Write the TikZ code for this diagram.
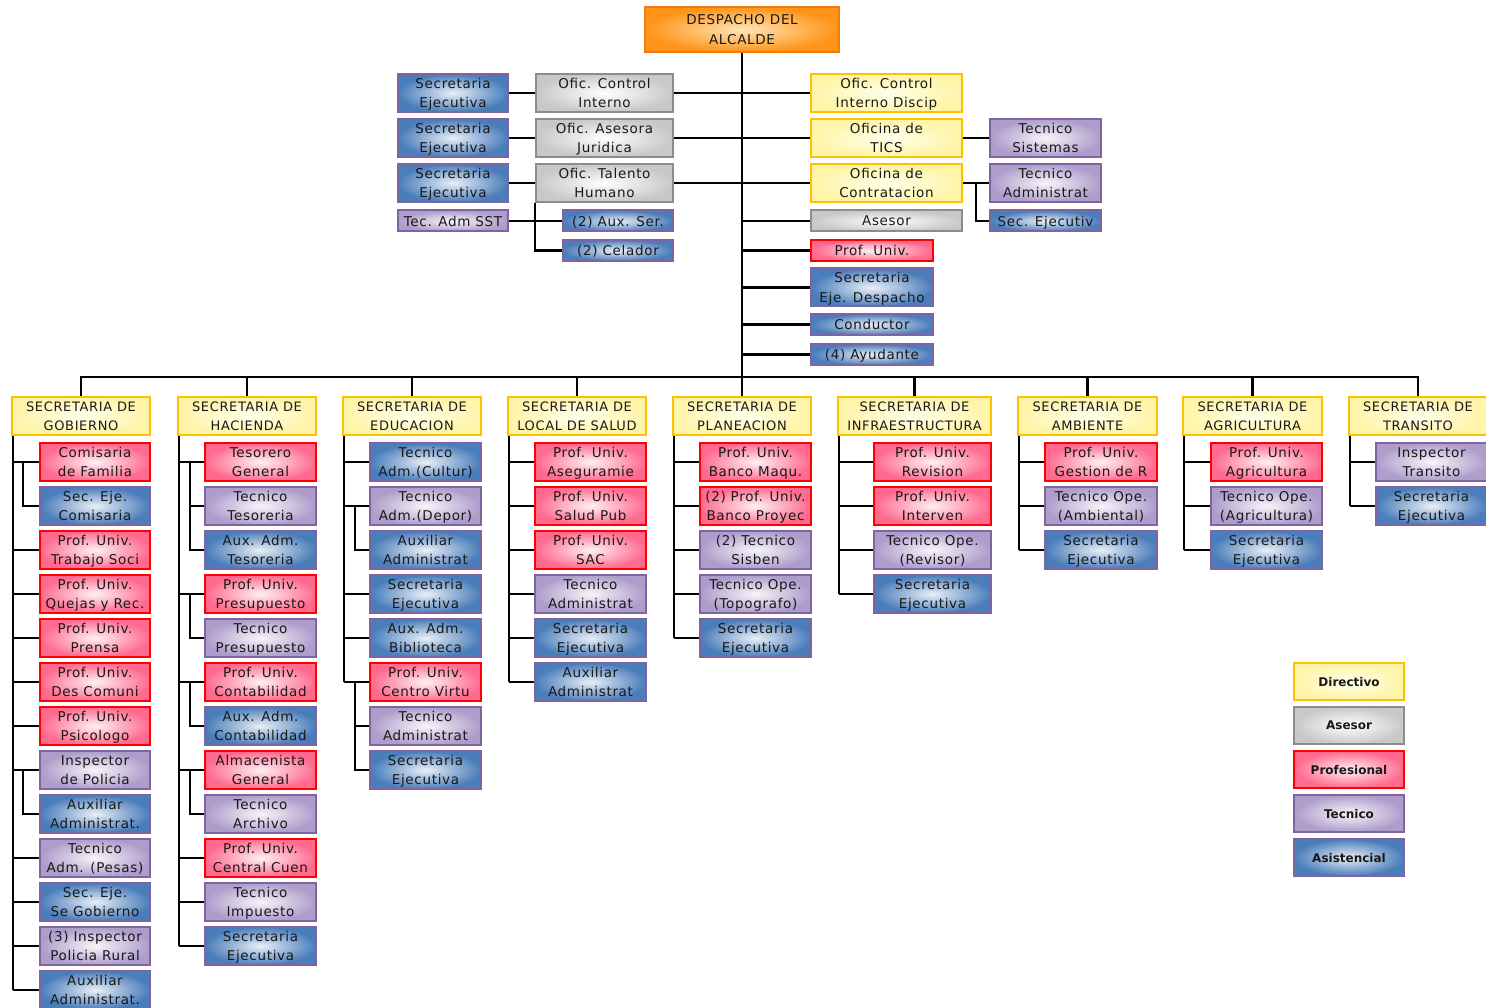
\documentclass[tikz,border=0pt]{standalone}
\usepackage{fontspec}
\newfontfamily\boxfam{DejaVu Sans}[LetterSpace=5]
\newfontfamily\legfam{DejaVu Sans}
\definecolor{dirline}{HTML}{FFC000}
\definecolor{dirfill}{HTML}{FFF4A8}
\definecolor{aseline}{HTML}{8C8C8C}
\definecolor{asefill}{HTML}{C8C8C8}
\definecolor{proline}{HTML}{FF0000}
\definecolor{profill}{HTML}{FF6A8E}
\definecolor{tecline}{HTML}{8064A2}
\definecolor{tecfill}{HTML}{AE9CCA}
\definecolor{asifill}{HTML}{4A7DBA}
\definecolor{alcline}{HTML}{F47A10}
\definecolor{alcfill}{HTML}{FF9418}
\definecolor{alcin}{HTML}{FFE6B8}
\tikzset{
  box/.style={draw, line width=2pt, inner sep=0pt, align=center, minimum height=38pt, text depth=0pt,
    text=black!90, font=\boxfam\fontsize{13.5}{19.5}\selectfont},
  dir/.style={box, draw=dirline, inner color=yellow!8, outer color=dirfill},
  ase/.style={box, draw=aseline, inner color=white, outer color=asefill},
  pro/.style={box, draw=proline, inner color=white!90!profill, outer color=profill},
  tec/.style={box, draw=tecline, inner color=white!90!tecfill, outer color=tecfill},
  asi/.style={box, draw=tecline, inner color=white!88!asifill, outer color=asifill},
  alc/.style={box, draw=alcline, inner color=alcin, outer color=alcfill},
  hdr/.style={dir, font=\boxfam\fontsize{13}{19.5}\selectfont},
  one/.style={minimum height=21pt},
  leg/.style={font=\legfam\bfseries\fontsize{12}{14}\selectfont, minimum width=110pt, minimum height=37pt},
  link/.style={line width=2.2pt, black}
}
\begin{document}
\begin{tikzpicture}[x=1pt,y=-1pt]
\useasboundingbox (0,0) rectangle (1486,1008);
% despacho
\node[alc, minimum width=194pt, minimum height=45pt, font=\boxfam\fontsize{13.5}{20}\selectfont] (desp) at (742,29.5) {DESPACHO DEL\\ALCALDE};
% left of the trunk
\node[asi, minimum width=110pt] (sec1) at (453,93) {Secretaria\\Ejecutiva};
\node[asi, minimum width=110pt] (sec2) at (453,138) {Secretaria\\Ejecutiva};
\node[asi, minimum width=110pt] (sec3) at (453,183) {Secretaria\\Ejecutiva};
\node[tec, one, minimum width=110pt] (sst) at (453,221) {Tec. Adm SST};
\node[ase, minimum width=137pt] (oci) at (604.5,93) {Ofic. Control\\Interno};
\node[ase, minimum width=137pt] (oaj) at (604.5,138) {Ofic. Asesora\\Juridica};
\node[ase, minimum width=137pt] (oth) at (604.5,183) {Ofic. Talento\\Humano};
\node[asi, one, minimum width=110pt] (aux) at (618,221) {(2) Aux. Ser.};
\node[asi, one, minimum width=110pt] (cel) at (618,250.5) {(2) Celador};
% right of the trunk
\node[dir, minimum width=151pt] (ocd) at (886.5,93) {Ofic. Control\\Interno Discip};
\node[dir, minimum width=151pt] (otic) at (886.5,138) {Oficina de\\TICS};
\node[dir, minimum width=151pt] (ocon) at (886.5,183) {Oficina de\\Contratacion};
\node[ase, one, minimum width=151pt] (ases) at (886.5,221) {Asesor};
\node[pro, one, minimum width=122pt] (prof) at (872,250.5) {Prof. Univ.};
\node[asi, minimum width=122pt] (sedd) at (872,287.5) {Secretaria\\Eje. Despacho};
\node[asi, one, minimum width=122pt] (cond) at (872,324.5) {Conductor};
\node[asi, one, minimum width=122pt] (ayud) at (872,354.5) {(4) Ayudante};
\node[tec, minimum width=111pt] (tsis) at (1045.5,138) {Tecnico\\Sistemas};
\node[tec, minimum width=111pt] (tadm) at (1045.5,183) {Tecnico\\Administrat};
\node[asi, one, minimum width=111pt] (sej) at (1045.5,221) {Sec. Ejecutiv};
% secretarias
\foreach \n/\x/\w/\tx in {hg/81/138/GOBIERNO, hh/247/138/HACIENDA, he/412/138/EDUCACION, hs/577/138/LOCAL DE SALUD, hp/742/138/PLANEACION, hi/914.5/153/INFRAESTRUCTURA, ha/1087.5/139/AMBIENTE, hr/1252.5/139/AGRICULTURA, ht/1418/138/TRANSITO}
\node[hdr, minimum width=\w pt] (\n) at (\x,416) {SECRETARIA DE\\\tx};
% top links
\draw[link] (desp.south) -- (hp.north);
\draw[link] (sec1.east) -- (oci.west);
\draw[link] (sec2.east) -- (oaj.west);
\draw[link] (sec3.east) -- (oth.west);
\draw[link] (oci.east) -- (ocd.west);
\draw[link] (oaj.east) -- (otic.west);
\draw[link] (oth.east) -- (ocon.west);
\draw[link] (sst.east) -- (aux.west);
\draw[link] (oth.south west) |- (cel.west);
\draw[link] (otic.east) -- (tsis.west);
\draw[link] (ocon.east) -- (tadm.west);
\coordinate (cj) at ([xshift=13pt]ocon.east);
\draw[link] (cj) |- (sej.west);
\foreach \n in {ases,prof,sedd,cond,ayud} % edit here for the despacho branches
\draw[link] (desp.south |- \n.west) -- (\n.west);
\coordinate (bus) at (742,377);
\draw[link] (hg.north) -- (hg.north |- bus) -- (ht.north |- bus) -- (ht.north);
\foreach \n in {hh,he,hs,hi,ha,hr}
\draw[link] (\n.north) -- (\n.north |- bus);
% gobierno
\foreach \st/\tx [count=\k] in {pro/{Comisaria\\de Familia}, asi/{Sec. Eje.\\Comisaria}, pro/{Prof. Univ.\\Trabajo Soci}, pro/{Prof. Univ.\\Quejas y Rec.}, pro/{Prof. Univ.\\Prensa}, pro/{Prof. Univ.\\Des Comuni}, pro/{Prof. Univ.\\Psicologo}, tec/{Inspector\\de Policia}, asi/{Auxiliar\\Administrat.}, tec/{Tecnico\\Adm. (Pesas)}, asi/{Sec. Eje.\\Se Gobierno}, tec/{(3) Inspector\\Policia Rural}, asi/{Auxiliar\\Administrat.}}
\node[\st, minimum width=110pt] (g\k) at (95,{418+44*\k}) {\tx};
\coordinate (gT) at ([xshift=2pt]hg.south west);
\coordinate (gS) at ([xshift=12pt]hg.south west);
\draw[link] (gT) -- (gT |- g13.west);
\foreach \k in {1,3,4,5,6,7,8,10,11,12,13}
\draw[link] (gT |- g\k.west) -- (g\k.west);
\foreach \p/\c in {1/2,8/9}
\draw[link] (gS |- g\p.west) |- (g\c.west);
% hacienda
\foreach \st/\tx [count=\k] in {pro/{Tesorero\\General}, tec/{Tecnico\\Tesoreria}, asi/{Aux. Adm.\\Tesoreria}, pro/{Prof. Univ.\\Presupuesto}, tec/{Tecnico\\Presupuesto}, pro/{Prof. Univ.\\Contabilidad}, asi/{Aux. Adm.\\Contabilidad}, pro/{Almacenista\\General}, tec/{Tecnico\\Archivo}, pro/{Prof. Univ.\\Central Cuen}, tec/{Tecnico\\Impuesto}, asi/{Secretaria\\Ejecutiva}}
\node[\st, minimum width=111pt] (h\k) at (260.5,{418+44*\k}) {\tx};
\coordinate (hT) at ([xshift=2pt]hh.south west);
\coordinate (hS) at ([xshift=13pt]hh.south west);
\draw[link] (hT) -- (hT |- h12.west);
\foreach \k in {1,4,6,8,10,11,12}
\draw[link] (hT |- h\k.west) -- (h\k.west);
\foreach \p/\c in {1/2,1/3,4/5,6/7,8/9}
\draw[link] (hS |- h\p.west) |- (h\c.west);
% educacion
\foreach \st/\tx [count=\k] in {asi/{Tecnico\\Adm.(Cultur)}, tec/{Tecnico\\Adm.(Depor)}, asi/{Auxiliar\\Administrat}, asi/{Secretaria\\Ejecutiva}, asi/{Aux. Adm.\\Biblioteca}, pro/{Prof. Univ.\\Centro Virtu}, tec/{Tecnico\\Administrat}, asi/{Secretaria\\Ejecutiva}}
\node[\st, minimum width=111pt] (e\k) at (425.5,{418+44*\k}) {\tx};
\coordinate (eT) at ([xshift=2pt]he.south west);
\coordinate (eS) at ([xshift=13pt]he.south west);
\draw[link] (eT) -- (eT |- e6.west);
\foreach \k in {1,2,4,5,6}
\draw[link] (eT |- e\k.west) -- (e\k.west);
\foreach \p/\c in {2/3,6/7,6/8}
\draw[link] (eS |- e\p.west) |- (e\c.west);
% salud
\foreach \st/\tx [count=\k] in {pro/{Prof. Univ.\\Aseguramie}, pro/{Prof. Univ.\\Salud Pub}, pro/{Prof. Univ.\\SAC}, tec/{Tecnico\\Administrat}, asi/{Secretaria\\Ejecutiva}, asi/{Auxiliar\\Administrat}}
\node[\st, minimum width=111pt] (s\k) at (590.5,{418+44*\k}) {\tx};
\coordinate (sT) at ([xshift=2pt]hs.south west);
\draw[link] (sT) -- (sT |- s6.west);
\foreach \k in {1,...,6}
\draw[link] (sT |- s\k.west) -- (s\k.west);
% planeacion
\foreach \st/\tx [count=\k] in {pro/{Prof. Univ.\\Banco Maqu.}, pro/{(2) Prof. Univ.\\Banco Proyec}, tec/{(2) Tecnico\\Sisben}, tec/{Tecnico Ope.\\(Topografo)}, asi/{Secretaria\\Ejecutiva}}
\node[\st, minimum width=111pt] (p\k) at (755.5,{418+44*\k}) {\tx};
\coordinate (pT) at ([xshift=2pt]hp.south west);
\draw[link] (pT) -- (pT |- p5.west);
\foreach \k in {1,...,5}
\draw[link] (pT |- p\k.west) -- (p\k.west);
% infraestructura
\foreach \st/\tx [count=\k] in {pro/{Prof. Univ.\\Revision}, pro/{Prof. Univ.\\Interven}, tec/{Tecnico Ope.\\(Revisor)}, asi/{Secretaria\\Ejecutiva}}
\node[\st, minimum width=117pt] (i\k) at (932.5,{418+44*\k}) {\tx};
\coordinate (iT) at ([xshift=2pt]hi.south west);
\draw[link] (iT) -- (iT |- i4.west);
\foreach \k in {1,...,4}
\draw[link] (iT |- i\k.west) -- (i\k.west);
% ambiente
\foreach \st/\tx [count=\k] in {pro/{Prof. Univ.\\Gestion de R}, tec/{Tecnico Ope.\\(Ambiental)}, asi/{Secretaria\\Ejecutiva}}
\node[\st, minimum width=112pt] (a\k) at (1101,{418+44*\k}) {\tx};
\coordinate (aT) at ([xshift=2pt]ha.south west);
\draw[link] (aT) -- (aT |- a3.west);
\foreach \k in {1,2,3}
\draw[link] (aT |- a\k.west) -- (a\k.west);
% agricultura
\foreach \st/\tx [count=\k] in {pro/{Prof. Univ.\\Agricultura}, tec/{Tecnico Ope.\\(Agricultura)}, asi/{Secretaria\\Ejecutiva}}
\node[\st, minimum width=111pt] (r\k) at (1266.5,{418+44*\k}) {\tx};
\coordinate (rT) at ([xshift=2pt]hr.south west);
\draw[link] (rT) -- (rT |- r3.west);
\foreach \k in {1,2,3}
\draw[link] (rT |- r\k.west) -- (r\k.west);
% transito
\foreach \st/\tx [count=\k] in {tec/{Inspector\\Transito}, asi/{Secretaria\\Ejecutiva}}
\node[\st, minimum width=111pt] (t\k) at (1431.5,{418+44*\k}) {\tx};
\coordinate (tT) at ([xshift=2pt]ht.south west);
\draw[link] (tT) -- (tT |- t2.west);
\foreach \k in {1,2}
\draw[link] (tT |- t\k.west) -- (t\k.west);
% legend
\foreach \st/\tx [count=\k] in {dir/Directivo, ase/Asesor, pro/Profesional, tec/Tecnico, asi/Asistencial}
\node[\st, leg] (lg\k) at (1349,{637.5+44*\k}) {\tx};
\end{tikzpicture}
\end{document}
